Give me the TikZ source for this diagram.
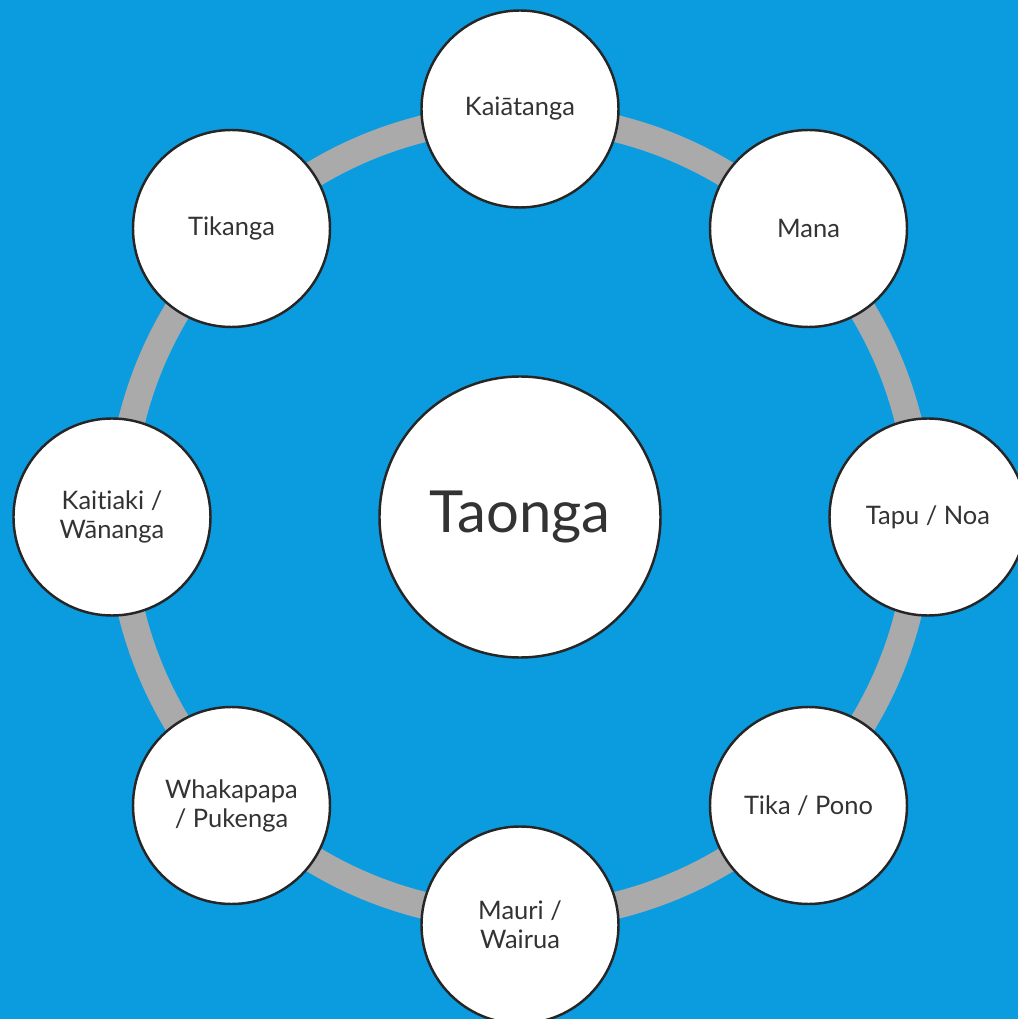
\documentclass[tikz,border=0pt]{standalone}
\usepackage{fontspec}
\setmainfont{Lato}[Ligatures={NoCommon}]
\usepackage{xcolor}
\usepackage{tikz}
\usetikzlibrary{positioning,calc}

\definecolor{bgblue}{RGB}{11,155,223}
\definecolor{ringgray}{RGB}{170,170,170}
\definecolor{inkgray}{RGB}{51,51,51}

\tikzset{
    value/.style={circle, draw=black!85, line width=1.4pt, fill=white,
        minimum size=3.94cm, inner sep=0pt, align=center, text=inkgray,
        font=\fontsize{14.5}{16.5}\selectfont},
    hub/.style={value, minimum size=5.62cm, font=\fontsize{33}{38}\selectfont},
    ring/.style={draw=ringgray, line width=0.54cm}
}

\begin{document}
\begin{tikzpicture}
    % Background
    \fill[bgblue] (-10.4,-10.04) rectangle (9.96,10.34);
    \useasboundingbox (-10.4,-10.04) rectangle (9.96,10.34);
    \clip (-10.4,-10.04) rectangle (9.96,10.34);

    % Centre
    \node[hub] (taonga) at (0,0) {Taonga};
    \draw[ring] (taonga.center) circle (8.0);

    % Values round the ring
    \foreach \name/\ang/\txt in {kaiatanga/90/Kaiātanga, mana/45/Mana,
        tapu/0/{Tapu / Noa}, tika/-45/{Tika / Pono}, mauri/-90/{Mauri /\\Wairua},
        whakapapa/-135/{Whakapapa\\/ Pukenga}, kaitiaki/180/{Kaitiaki /\\Wānanga},
        tikanga/135/Tikanga} {
        \node[value] (\name) at ($(taonga.center)+(\ang:8.16)$) {\txt};
    }
\end{tikzpicture}
\end{document}
